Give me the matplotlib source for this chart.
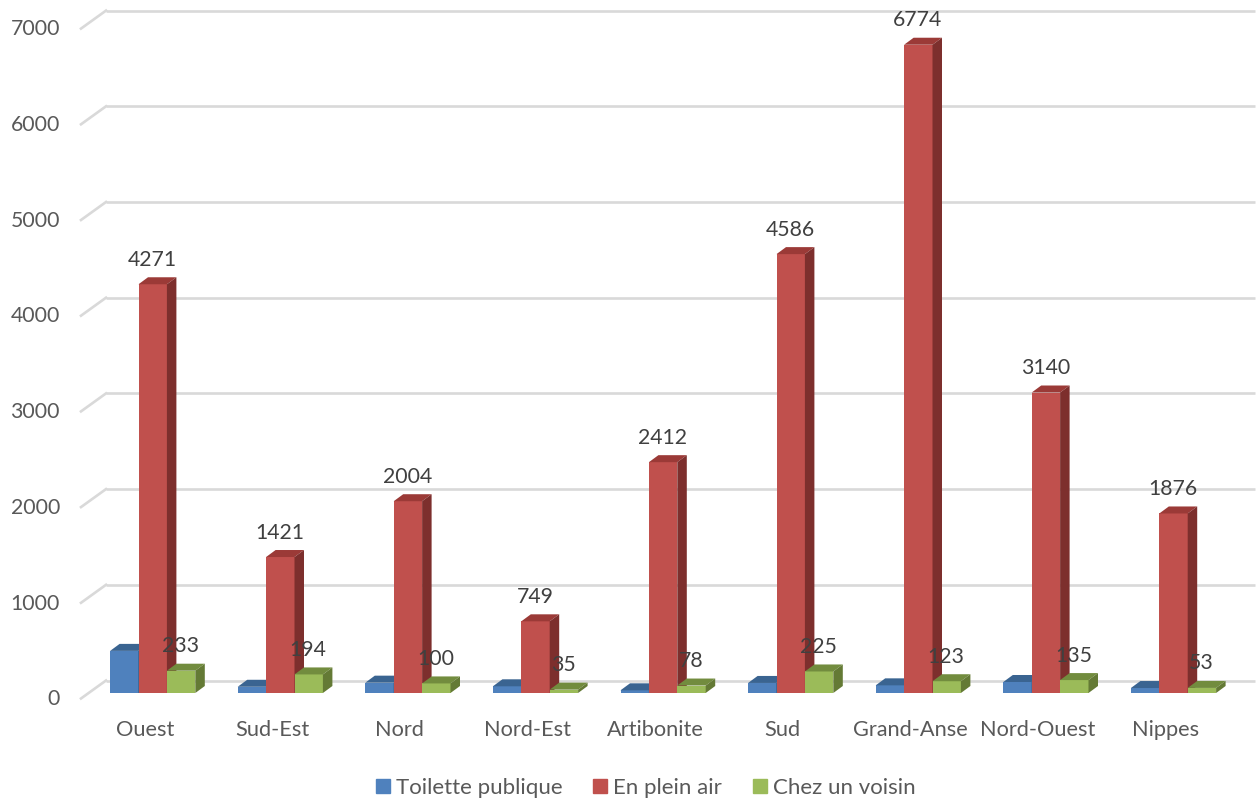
#3D-looking clustered bars, drawn on one full-figure axes
import matplotlib
matplotlib.use('Agg')
import numpy as np
import matplotlib.pyplot as plt
from matplotlib.patches import Polygon, Patch

plt.rcParams['font.family'] = ['Lato', 'DejaVu Sans']

regions = ['Ouest', 'Sud-Est', 'Nord', 'Nord-Est', 'Artibonite', 'Sud', 'Grand-Anse', 'Nord-Ouest', 'Nippes']
toilette = [440, 65, 108, 70, 28, 105, 80, 115, 52]
plein_air = [4271, 1421, 2004, 749, 2412, 4586, 6774, 3140, 1876]
voisin = [233, 194, 100, 35, 78, 225, 123, 135, 53]
y_ticks = [0, 1000, 2000, 3000, 4000, 5000, 6000, 7000]
series_names = ['Toilette publique', 'En plein air', 'Chez un voisin']

W, H = 1257, 802
PX_PER_UNIT = 0.0957 #pixels for one unit on y
PX_PER_CAT = 127.6 #pixels between two regions
X0, Y0 = 152.7, 693 #pixel of the first red bar centre and of value 0

fig = plt.figure(figsize=(W/100, H/100), dpi=100)
ax = fig.add_axes([0, 0, 1, 1])
ax.set_xlim(-X0/PX_PER_CAT, (W-X0)/PX_PER_CAT)
ax.set_ylim((Y0-H)/PX_PER_UNIT, Y0/PX_PER_UNIT)
ax.axis('off')

def dx(px):
	return px/PX_PER_CAT

def dy(px):
	return px/PX_PER_UNIT

grid_col = '#D9D9D9'
text_col = '#595959'
label_col = '#404040'

#gridlines on the back wall plus the short diagonal at the left
for v in y_ticks:
	yb = v + dy(12.5)
	ax.plot([dx(106-X0), dx(1255-X0)], [yb, yb], color=grid_col, lw=1.9, zorder=1, solid_capstyle='butt')
	ax.plot([dx(81-X0), dx(106-X0)], [yb-dy(18), yb], color=grid_col, lw=1.9, zorder=1)
	ax.text(dx(60-X0), v-dy(6.2), str(v), ha='right', va='center', fontsize=15.3, color=text_col)

bar_w = 28.4/PX_PER_CAT
depth_x = dx(9.5)
depth_y = dy(7)
x = np.arange(len(regions))

def bars3d(xs, vals, front, top, side, z):
	ax.bar(xs, vals, bar_w, color=front, edgecolor='none', zorder=z)
	for xi, v in zip(xs, vals):
		l, r = xi-bar_w/2, xi+bar_w/2
		ax.add_patch(Polygon([(l, v), (r, v), (r+depth_x, v+depth_y), (l+depth_x, v+depth_y)], closed=True, color=top, lw=0, zorder=z))
		ax.add_patch(Polygon([(r, 0), (r, v), (r+depth_x, v+depth_y), (r+depth_x, depth_y)], closed=True, color=side, lw=0, zorder=z))

bars3d(x-bar_w, toilette, '#4F81BD', '#3A6491', '#2F5277', 3)
bars3d(x, plein_air, '#C0504D', '#9B3A37', '#7D2F2D', 4)
bars3d(x+bar_w, voisin, '#9BBB59', '#728C3E', '#647A35', 5)

#value labels, only the red and green series have them
for i in range(len(regions)):
	ax.text(x[i]-dx(0.5), plein_air[i]+dy(24.5), str(plein_air[i]), ha='center', va='center', fontsize=15.3, color=label_col, zorder=6)
	ax.text(x[i]+bar_w-dx(0.5), voisin[i]+dy(24.5), str(voisin[i]), ha='center', va='center', fontsize=15.3, color=label_col, zorder=6)
	ax.text(x[i]-dx(8), dy(Y0-730.5), regions[i], ha='center', va='center', fontsize=15.7, color=text_col)

handles = [Patch(color='#4F81BD'), Patch(color='#C0504D'), Patch(color='#9BBB59')]
ax.legend(handles, series_names, loc='center', bbox_to_anchor=(645.5/W, 1-788/H), ncol=3, frameon=False,
	fontsize=16, labelcolor=text_col, handlelength=0.63, handleheight=0.63, handletextpad=0.27, columnspacing=1.38)

plt.savefig('out.png', dpi=100)
